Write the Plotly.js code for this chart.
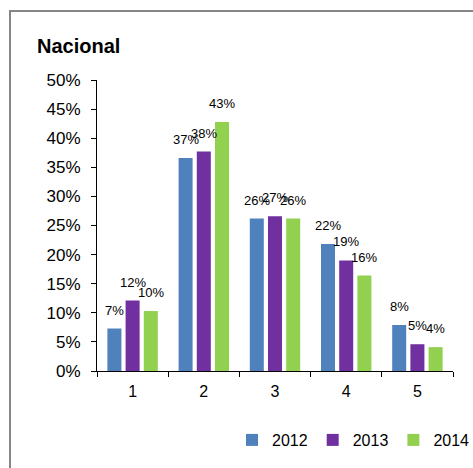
<!DOCTYPE html>
<html>
<head>
<meta charset="utf-8">
<script src="https://cdn.plot.ly/plotly-3.0.1.min.js"></script>
<style>
  html, body { margin: 0; padding: 0; background: #fff; overflow: hidden; }
  #wrap { position: relative; width: 473px; height: 468px; }
  #chart { position: absolute; left: 0; top: 0; width: 473px; height: 468px; }
  #frame { position: absolute; left: 9px; top: 10px; width: 480px; height: 480px;
           border-left: 2px solid #868686; border-top: 2px solid #868686; pointer-events: none; }
</style>
</head>
<body>
<div id="wrap">
  <div id="chart"></div>
  <div id="frame"></div>
</div>
<script>
const categories = ['1', '2', '3', '4', '5'];
const seriesNames = ['2012', '2013', '2014'];
const values2012 = [7.3, 36.6, 26.2, 21.8, 7.9];
const values2013 = [12.1, 37.7, 26.6, 19.0, 4.6];
const values2014 = [10.3, 42.8, 26.2, 16.4, 4.1];
const yTickValues = [0, 5, 10, 15, 20, 25, 30, 35, 40, 45, 50];

const colors = ['#4F81BD', '#7030A0', '#92D050'];
const allValues = [values2012, values2013, values2014];
const FONT = 'Liberation Sans, Arial, sans-serif';
const bargap = 0.233;

const traces = allValues.map((vals, i) => ({
  type: 'bar',
  name: seriesNames[i],
  x: categories,
  y: vals,
  marker: { color: colors[i] },
  hoverinfo: 'skip'
}));

const slot = (1 - bargap) / 3;
const annotations = [];
allValues.forEach((vals, i) => {
  vals.forEach((v, j) => {
    annotations.push({
      x: j + (i - 1) * slot,
      y: v,
      xref: 'x', yref: 'y',
      text: Math.round(v) + '%',
      showarrow: false,
      xanchor: 'center', yanchor: 'bottom',
      yshift: 9,
      font: { family: FONT, size: 13, color: '#000' }
    });
  });
});

const layout = {
  width: 473, height: 468,
  margin: { l: 97, r: 20, t: 80, b: 97, autoexpand: false },
  paper_bgcolor: '#fff', plot_bgcolor: '#fff',
  font: { family: FONT, size: 16, color: '#000' },
  title: {
    text: '<b>Nacional</b>',
    font: { family: FONT, size: 20, color: '#000' },
    xref: 'container', yref: 'container',
    x: 37 / 473, xanchor: 'left',
    y: 1 - 39 / 468, yanchor: 'top',
    automargin: false
  },
  barmode: 'group',
  bargap: bargap,
  bargroupgap: 0.23,
  xaxis: {
    type: 'category',
    showgrid: false,
    showline: true, linecolor: '#000', linewidth: 1,
    ticks: 'outside', tickson: 'boundaries', ticklen: 5, tickcolor: '#000',
    tickfont: { family: FONT, size: 16, color: '#000' },
    ticklabelstandoff: 6,
    automargin: false,
    fixedrange: true
  },
  yaxis: {
    range: [0, 50],
    tickvals: yTickValues,
    ticktext: yTickValues.map(v => v + '%'),
    showgrid: false, zeroline: false,
    showline: true, linecolor: '#000', linewidth: 1,
    ticks: 'outside', ticklen: 5, tickcolor: '#000',
    tickfont: { family: FONT, size: 17, color: '#000' },
    ticklabelstandoff: 7,
    automargin: false,
    fixedrange: true
  },
  showlegend: true,
  legend: {
    orientation: 'h',
    xref: 'container', yref: 'container',
    x: 232 / 473, xanchor: 'left',
    y: 1 - 440 / 468, yanchor: 'middle',
    font: { family: FONT, size: 16, color: '#000' },
    itemclick: false, itemdoubleclick: false
  },
  annotations: annotations
};

Plotly.newPlot('chart', traces, layout, { displayModeBar: false, staticPlot: true });
</script>
</body>
</html>
